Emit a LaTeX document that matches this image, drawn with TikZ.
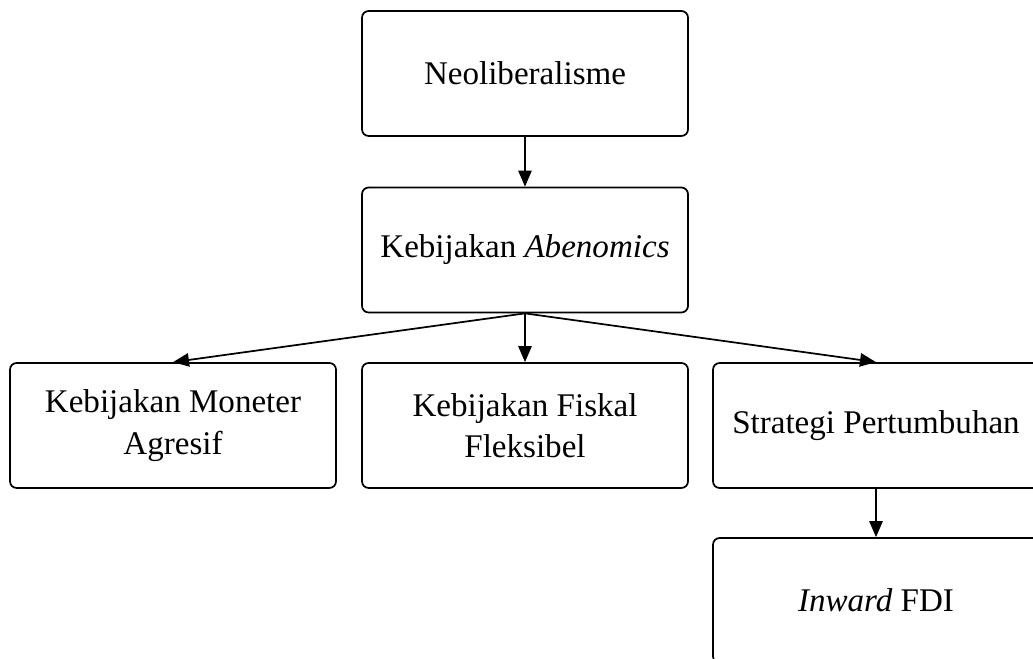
\documentclass[tikz,border=0pt]{standalone}
\usepackage{fontspec}
\setmainfont{Liberation Serif}
\usepackage{tikz}
\usetikzlibrary{
    arrows.meta,
    positioning
}
\tikzset{
    box/.style={draw, rounded corners=5pt, line width=1.3pt,
        minimum width=244.5pt, minimum height=93.75pt, inner sep=0pt,
        align=center, font=\fontsize{24.8}{31}\selectfont},
    link/.style={-{Triangle[length=12pt, width=10pt]}, line width=1.3pt}
}

\begin{document}
\begin{tikzpicture}[x=0.75pt, y=-0.75pt]
                    \useasboundingbox (0, 0) rectangle (1033, 659);
                    \node[box] (neo) at (525, 73.5) {Neoliberalisme};
                    \node[box] (abe) at (525, 250) {Kebijakan \textit{Abenomics}};
                    \node[box] (mon) at (173, 425.5) {Kebijakan Moneter\\Agresif};
                    \node[box] (fis) at (525, 425.5) {Kebijakan Fiskal\\Fleksibel};
                    \node[box] (str) at (876, 425.5) {Strategi Pertumbuhan};
                    \node[box] (fdi) at (876, 600.5) {\textit{Inward} FDI};

                    \draw
                    (neo) edge[link] (abe)
                    (abe.south) edge[link] (mon.north)
                    (abe.south) edge[link] (fis.north)
                    (abe.south) edge[link] (str.north)
                    (str) edge[link] (fdi);
                \end{tikzpicture}
\end{document}
